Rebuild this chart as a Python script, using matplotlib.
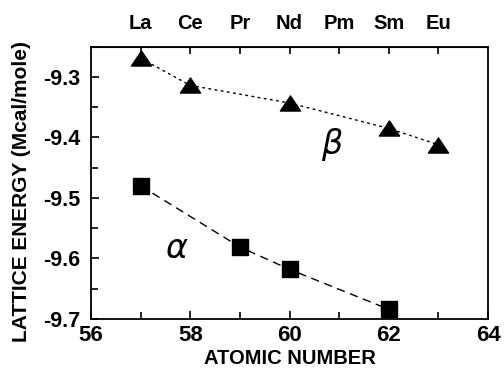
import matplotlib
matplotlib.use("Agg")
import matplotlib.pyplot as plt
from matplotlib.ticker import MultipleLocator
from matplotlib.path import Path

plt.rcParams['font.family'] = ['Liberation Sans', 'DejaVu Sans']

beta_z = [57, 58, 60, 62, 63]
beta_e = [-9.269, -9.314, -9.343, -9.385, -9.412]
alpha_z = [57, 59, 60, 62]
alpha_e = [-9.480, -9.581, -9.618, -9.684]
elem_z = [57, 58, 59, 60, 61, 62, 63]
elem_labels = ['La', 'Ce', 'Pr', 'Nd', 'Pm', 'Sm', 'Eu']

tri = Path([(-1, -0.75), (1, -0.75), (0, 0.75), (-1, -0.75)],
           [Path.MOVETO, Path.LINETO, Path.LINETO, Path.CLOSEPOLY])

fig = plt.figure(figsize=(5.04, 3.72), dpi=100)
ax = fig.add_axes([0.1806, 0.1425, 0.7877, 0.7320])

ax.plot(beta_z, beta_e, color='black', linestyle=(0, (2, 2.5)), linewidth=1.0,
        marker=tri, markersize=14.5, markerfacecolor='black', markeredgecolor='black')
ax.plot(alpha_z, alpha_e, color='black', linestyle=(0, (6, 4)), linewidth=1.0,
        marker='s', markersize=11, markerfacecolor='black', markeredgecolor='black')

ax.set_xlim(56, 64)
ax.set_ylim(-9.7, -9.25)
ax.xaxis.set_major_locator(MultipleLocator(2))
ax.xaxis.set_minor_locator(MultipleLocator(1))
ax.yaxis.set_major_locator(MultipleLocator(0.1))
ax.yaxis.set_minor_locator(MultipleLocator(0.05))
ax.set_yticks([-9.7, -9.6, -9.5, -9.4, -9.3])
ax.set_yticklabels(['-9.7', '-9.6', '-9.5', '-9.4', '-9.3'])
ax.tick_params(axis='both', which='both', direction='in', top=False, right=False)
ax.tick_params(which='major', length=6, width=1.2)
ax.tick_params(axis='x', which='major', pad=4.5, labelsize=16)
ax.tick_params(axis='y', which='major', pad=7.5, labelsize=15.5)
ax.tick_params(which='minor', length=5, width=1.2)
for lab in ax.get_xticklabels() + ax.get_yticklabels():
    lab.set_fontweight('bold')

ax.set_xlabel('ATOMIC NUMBER', fontsize=14.5, fontweight='bold', labelpad=2)
ax.set_ylabel('LATTICE ENERGY (Mcal/mole)', fontsize=15, fontweight='bold')
ax.yaxis.set_label_coords(-0.15, 0.468)

for s in ax.spines.values():
    s.set_linewidth(1.3)

top = ax.secondary_xaxis('top')
top.set_xticks(elem_z)
top.set_xticklabels(elem_labels, fontsize=14.5, fontweight='bold')
top.tick_params(direction='in', length=5, width=1.2, pad=10)

ax.text(57.72, -9.585, r'$\alpha$', fontsize=24, ha='center', va='center')
ax.text(60.86, -9.412, r'$\beta$', fontsize=24, ha='center', va='center')

fig.savefig('out.png', dpi=100)
